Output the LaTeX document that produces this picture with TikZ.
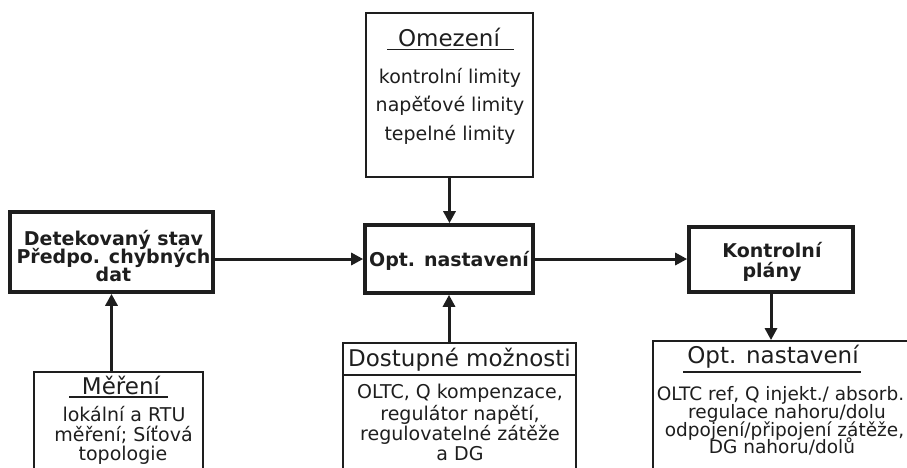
\documentclass[tikz,border=0pt]{standalone}
\usepackage{fontspec}
\setmainfont{DejaVu Sans}
\usetikzlibrary{arrows.meta}
\definecolor{ink}{HTML}{1E1E1E}
\begin{document}
\begin{tikzpicture}[x=1pt,y=-1pt,
  frame/.style={draw=ink, line width=3.6pt, inner sep=0pt},
  panel/.style={draw=ink, line width=1.8pt, inner sep=0pt},
  flow/.style={draw=ink, line width=3pt, -{Triangle[width=12pt,length=12pt]}},
  rule/.style={draw=ink, line width=1.6pt},
  head/.style={anchor=base, inner sep=0pt, text=ink, font=\fontsize{23}{26}\selectfont},
  body/.style={anchor=base, inner sep=0pt, text=ink, font=\fontsize{19}{20}\selectfont},
  small/.style={anchor=base, inner sep=0pt, text=ink, font=\fontsize{18.5}{19}\selectfont},
  strong/.style={anchor=base, inner sep=0pt, text=ink, font=\bfseries\fontsize{19}{20}\selectfont},
]
\useasboundingbox (0,0) rectangle (907,467);
\clip (0,0) rectangle (907,467);

% main chain of blocks
\node[frame, minimum width=203pt, minimum height=80pt] (det) at (111.5,252) {};
\node[frame, minimum width=168pt, minimum height=68pt] (opt) at (449,259) {};
\node[frame, minimum width=164pt, minimum height=65pt] (kon) at (771,259.5) {};

\node[strong] (det1) at (113.5,245) {Detekovaný stav};
\node[strong] (det2) at (113.5,263.3) {Předpo. chybných};
\node[strong] (det3) at (113.5,281.7) {dat};
\node[strong] (opt1) at (449,266) {Opt. nastavení};
\node[strong] (kon1) at (772,257) {Kontrolní};
\node[strong] (kon2) at (772,277) {plány};

% constraints panel
\node[panel, minimum width=167pt, minimum height=164pt] (om) at (449.5,95) {};
\node[head] (omt) at (449,46.7) {Omezení};
\draw[rule] (387,49.5) -- (514,49.5);
\node[body] (om1) at (450,83.3) {kontrolní limity};
\node[body] (om2) at (450,111.7) {napěťové limity};
\node[body] (om3) at (450,140) {tepelné limity};

% measurement panel
\node[panel, minimum width=169pt, minimum height=110pt] (mer) at (118.5,427) {};
\node[head] (mert) at (121,394.3) {Měření};
\draw[rule] (69,397) -- (168,397);
\node[body] (mer1) at (124,421.7) {lokální a RTU};
\node[body] (mer2) at (123.5,441) {měření; Síťová};
\node[body] (mer3) at (123,460) {topologie};

% available means panel
\node[panel, minimum width=233pt, minimum height=140pt] (dos) at (459.5,413) {};
\node[head] (dost) at (459.5,366.7) {Dostupné možnosti};
\draw[rule] (dos.north west |- 0,375) -- (dos.north east |- 0,375);
\node[body] (dos1) at (460,398.3) {OLTC, Q kompenzace,};
\node[body] (dos2) at (460,420) {regulátor napětí,};
\node[body] (dos3) at (460,440) {regulovatelné zátěže};
\node[body] (dos4) at (460,460) {a DG};

% resulting settings panel
\node[panel, minimum width=264pt, minimum height=142pt] (res) at (785,412) {};
\node[head] (rest) at (773,363.3) {Opt. nastavení};
\draw[rule] (683,372) -- (861,372);
\node[small] (res1) at (780.5,400) {OLTC ref, Q injekt./ absorb.};
\node[small] (res2) at (787,418.5) {regulace nahoru/dolu};
\node[small] (res3) at (784.5,436) {odpojení/připojení zátěže,};
\node[small] (res4) at (782,453.3) {DG nahoru/dolů};

% connectors
\draw[flow] (det.east |- opt.west) -- (opt.west);
\draw[flow] (opt.east) -- (opt.east -| kon.west);
\draw[flow] (om.south) -- (om.south |- opt.north);
\draw[flow] (opt.south |- dos.north) -- (opt.south);
\draw[flow] (det.south |- mer.north) -- (det.south);
\draw[flow] (kon.south) -- (kon.south |- res.north);
\end{tikzpicture}
\end{document}
